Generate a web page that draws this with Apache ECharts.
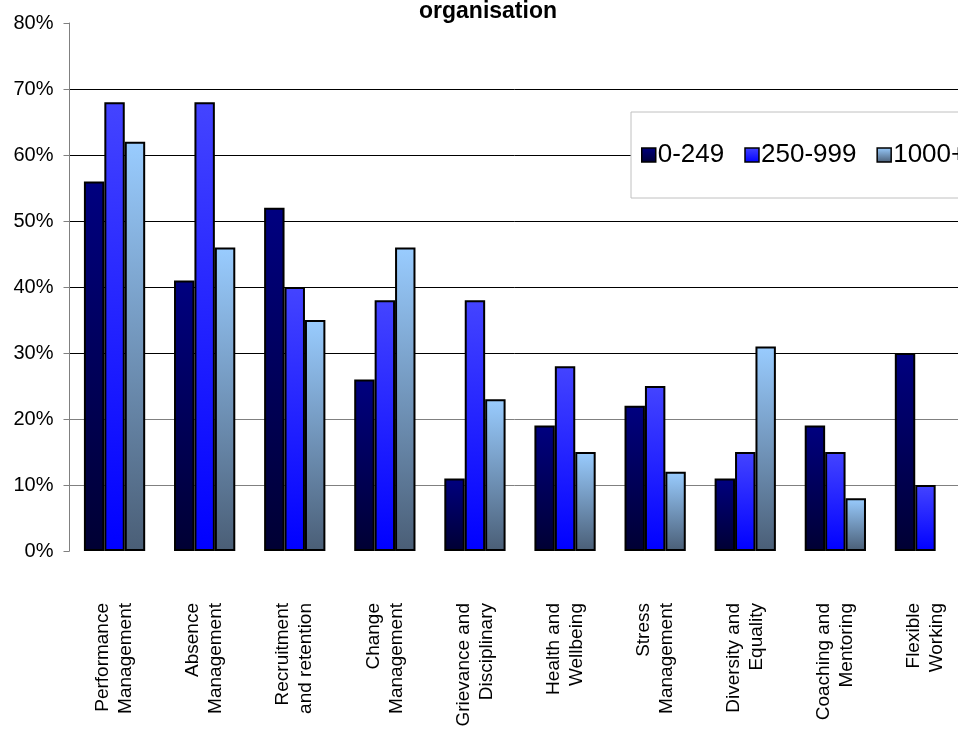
<!DOCTYPE html>
<html>
<head>
<meta charset="utf-8">
<script src="https://cdn.jsdelivr.net/npm/echarts@6/dist/echarts.min.js"></script>
<style>
html,body{margin:0;padding:0;background:#fff;}
#c{width:958px;height:729px;}
</style>
</head>
<body>
<div id="c"></div>
<script>
const titleText = 'organisation';
const categories = [
  'Performance\nManagement',
  'Absence\nManagement',
  'Recruitment\nand retention',
  'Change\nManagement',
  'Grievance and\nDisciplinary',
  'Health and\nWellbeing',
  'Stress\nManagement',
  'Diversity and\nEquality',
  'Coaching and\nMentoring',
  'Flexible\nWorking'
];
const seriesNames = ['0-249', '250-999', '1000+'];
const small = [56, 41, 52, 26, 11, 19, 22, 11, 19, 30];
const medium = [68, 68, 40, 38, 38, 28, 25, 15, 15, 10];
const large = [62, 46, 35, 46, 23, 15, 12, 31, 8, null];
const yTicks = [0, 10, 20, 30, 40, 50, 60, 70, 80];

function grad(top, bottom) {
  return new echarts.graphic.LinearGradient(0, 0, 0, 1, [
    {offset: 0, color: top},
    {offset: 1, color: bottom}
  ]);
}
const fills = [
  grad('#000080', '#000033'),
  grad('#4444ff', '#0000ff'),
  grad('#99ccff', '#4a5e76')
];
const dataSets = [small, medium, large];

const chart = echarts.init(document.getElementById('c'));
const FONT = 'Liberation Sans, Arial, sans-serif';
chart.setOption({
  animation: false,
  backgroundColor: '#fff',
  textStyle: {fontFamily: FONT},
  title: {
    text: titleText,
    left: 414,
    top: -5,
    textStyle: {fontFamily: FONT, fontSize: 23, fontWeight: 'bold', color: '#000'}
  },
  legend: {
    data: seriesNames,
    left: 631,
    top: 112,
    width: 800,
    orient: 'horizontal',
    icon: 'rect',
    backgroundColor: '#fff',
    borderColor: '#c0c0c0',
    borderWidth: 1,
    padding: [30, 40, 30, 10],
    itemGap: 20,
    itemWidth: 14,
    itemHeight: 14,
    textStyle: {fontFamily: FONT, fontSize: 26, color: '#000', padding: [0, 0, 0, -3]},
    itemStyle: {borderColor: '#000', borderWidth: 1.5}
  },
  grid: {left: 69.5, right: -12.5, top: 23, bottom: 178, containLabel: false, outerBoundsMode: 'none'},
  xAxis: {
    type: 'category',
    data: categories,
    axisLine: {show: false},
    axisTick: {show: false},
    axisLabel: {
      rotate: 90,
      interval: 0,
      margin: 52,
      fontFamily: FONT,
      fontSize: 19,
      lineHeight: 23,
      color: '#000'
    }
  },
  yAxis: {
    type: 'value',
    min: yTicks[0],
    max: yTicks[yTicks.length - 1],
    interval: 10,
    axisLine: {show: true, lineStyle: {color: '#808080', width: 1}},
    axisTick: {show: true, inside: false, length: 6, lineStyle: {color: '#808080'}},
    axisLabel: {formatter: '{value}%', fontFamily: FONT, fontSize: 20, color: '#000', margin: 16},
    splitLine: {
      show: true,
      lineStyle: {
        color: ['rgba(0,0,0,0)', '#808080', '#808080', '#000', '#000', '#000', '#000', '#000', 'rgba(0,0,0,0)'],
        width: 1
      }
    }
  },
  series: seriesNames.map((name, i) => ({
    name: name,
    type: 'bar',
    data: dataSets[i],
    barGap: '0%',
    barCategoryGap: '32%',
    itemStyle: {color: fills[i], borderColor: '#000', borderWidth: 2}
  }))
});
</script>
</body>
</html>
